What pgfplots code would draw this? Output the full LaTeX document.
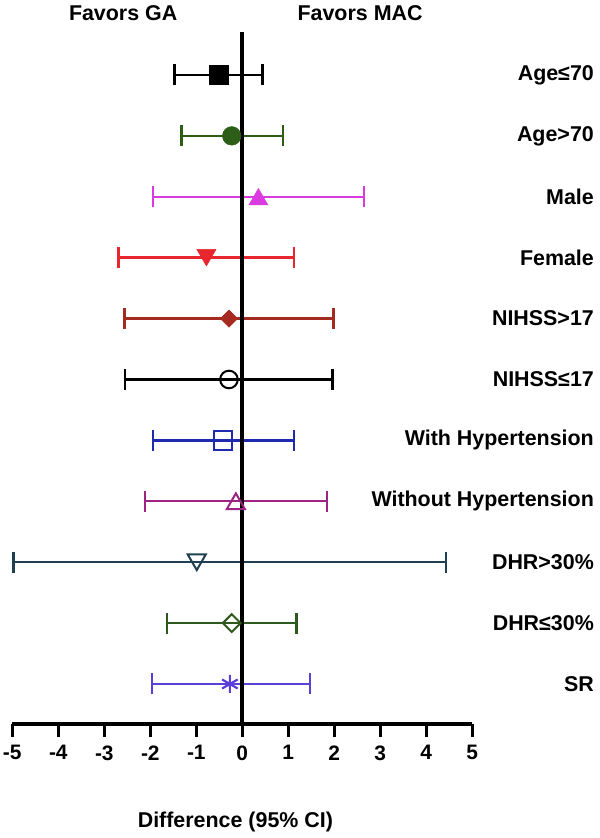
\documentclass[border=0pt]{standalone}
\usepackage{pgfplots}
\pgfplotsset{compat=1.18}
\usepackage{fontspec}
\setmainfont{Liberation Sans}
\definecolor{cAgeB}{HTML}{2D5E18}
\definecolor{cMale}{HTML}{D93BE0}
\definecolor{cMaleD}{HTML}{8E3A8E}
\definecolor{cFem}{HTML}{E8262E}
\definecolor{cFemD}{HTML}{A02020}
\definecolor{cNihA}{HTML}{A52A1F}
\definecolor{cHT}{HTML}{1F2AAE}
\definecolor{cNoHT}{HTML}{9C2483}
\definecolor{cDHRa}{HTML}{1E4052}
\definecolor{cDHRaD}{HTML}{14222A}
\definecolor{cDHRb}{HTML}{2E5A1E}
\definecolor{cSR}{HTML}{5A3FD8}
\newcommand{\lab}{\fontsize{21.5}{25}\selectfont\bfseries}
\pgfplotsset{eb/.style={line width=2.4bp, error bars/.cd, x dir=both, x explicit,
  error bar style={line width=2.4bp},
  error mark options={rotate=90, line width=2.4bp, mark size=10.5bp}}}
\begin{document}
\begin{tikzpicture}
\useasboundingbox (0,0) rectangle (600bp,838bp);
\begin{axis}[
  at={(12.3bp,114bp)}, anchor=south west,
  scale only axis, width=460bp, height=692bp,
  xmin=-5, xmax=5, ymin=0.343, ymax=11.706,
  axis y line=none, axis x line*=bottom,
  clip=false,
  xtick={-5,-4,-3,-2,-1,0,1,2,3,4,5},
  xticklabels={-5,-4,-3,-2,-1,0,1,2,3,4,5},
  tick align=outside, major tick length=13bp,
  x axis line style={line width=3bp, -},
  every tick/.style={line width=3bp, black},
  xticklabel style={font=\fontsize{21}{24}\selectfont\bfseries, yshift=-5bp},
]
% Age<=70
\addplot[black, only marks, mark=square*, mark size=9.3bp, mark options={line width=0.5bp}, eb]
  coordinates {(-0.51,11) += (0.95,0) -= (0.96,0)};
% Age>70
\addplot[cAgeB, only marks, mark=*, mark size=9.3bp, mark options={line width=0.5bp}, eb]
  coordinates {(-0.23,10) += (1.11,0) -= (1.09,0)};
% Male
\addplot[cMaleD, line width=2.5bp, no marks] coordinates {(-0.3,9) (0,9)};
\addplot[cMale, only marks, mark=triangle*, mark size=11bp, mark options={line width=0.5bp, yshift=-2.7bp}, eb]
  coordinates {(0.35,9) += (2.29,0) -= (2.29,0)};
% Female
\addplot[cFemD, line width=2.5bp, no marks] coordinates {(-0.3,8) (0,8)};
\addplot[cFem, only marks, mark=triangle*, mark size=11bp, mark options={line width=0.5bp, yshift=2.7bp, rotate=180}, eb]
  coordinates {(-0.78,8) += (1.90,0) -= (1.91,0)};
% NIHSS>17
\addplot[cNihA, only marks, mark=square*, mark size=6.1bp, mark options={line width=0.5bp, rotate=45}, eb]
  coordinates {(-0.29,7) += (2.27,0) -= (2.27,0)};
% NIHSS<=17
\addplot[black, only marks, mark=o, mark size=8.8bp, mark options={line width=2bp}, eb]
  coordinates {(-0.29,6) += (2.25,0) -= (2.26,0)};
% With hypertension
\addplot[cHT, only marks, mark=square, mark size=9.3bp, mark options={line width=2bp}, eb]
  coordinates {(-0.42,5) += (1.54,0) -= (1.52,0)};
% Without hypertension
\addplot[cNoHT, only marks, mark=triangle, mark size=10.5bp, mark options={line width=2bp, yshift=-2.6bp}, eb]
  coordinates {(-0.14,4) += (1.98,0) -= (1.98,0)};
% DHR>30%
\addplot[cDHRaD, line width=2.5bp, no marks] coordinates {(-0.3,3) (0,3)};
\addplot[cDHRa, only marks, mark=triangle, mark size=10.5bp, mark options={line width=2bp, yshift=2.6bp, rotate=180}, eb]
  coordinates {(-0.99,3) += (5.42,0) -= (3.98,0)};
% DHR<=30%
\addplot[cDHRb, only marks, mark=square, mark size=6.3bp, mark options={line width=2bp, rotate=45}, eb]
  coordinates {(-0.23,2) += (1.41,0) -= (1.41,0)};
% SR
\addplot[cSR, only marks, mark=asterisk, mark size=9bp, mark options={line width=2.2bp}, eb]
  coordinates {(-0.27,1) += (1.74,0) -= (1.69,0)};
% zero line
\addplot[black, line width=4bp, no marks] coordinates {(0,0.343) (0,11.706)};
% labels
\tikzset{rl/.style={anchor=east, inner sep=0pt, font=\lab}}
\node[rl] at (axis cs:7.646,11) {Age≤70};
\node[rl] at (axis cs:7.646,10) {Age>70};
\node[rl] at (axis cs:7.646,9) {Male};
\node[rl] at (axis cs:7.646,8) {Female};
\node[rl] at (axis cs:7.646,7) {NIHSS>17};
\node[rl] at (axis cs:7.646,6) {NIHSS≤17};
\node[rl] at (axis cs:7.646,5) {With Hypertension};
\node[rl] at (axis cs:7.646,4) {Without Hypertension};
\node[rl] at (axis cs:7.646,3) {DHR>30\%};
\node[rl] at (axis cs:7.646,2) {DHR≤30\%};
\node[rl] at (axis cs:7.646,1) {SR};
\node[font=\lab] at (axis cs:-2.59,12.018) {Favors GA};
\node[font=\lab] at (axis cs:2.56,12.018) {Favors MAC};
\node[font=\lab] at (axis cs:-0.15,-1.266) {Difference (95\% CI)};
\end{axis}
\end{tikzpicture}
\end{document}
